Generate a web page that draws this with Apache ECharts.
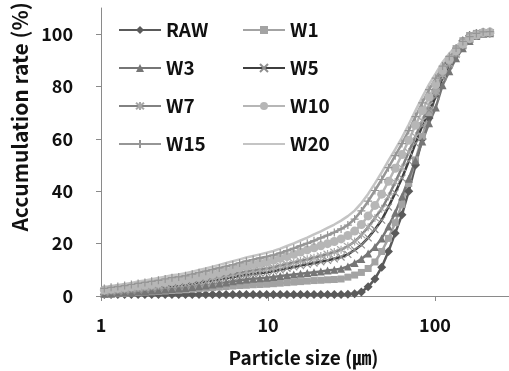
<!DOCTYPE html>
<html>
<head>
<meta charset="utf-8">
<script src="https://cdn.jsdelivr.net/npm/echarts@6/dist/echarts.min.js"></script>
<style>
  html, body { margin: 0; padding: 0; background: #fff; overflow: hidden; }
  #chart { width: 509px; height: 371px; }
</style>
</head>
<body>
<div id="chart"></div>
<script>
// particle size channels (um)
const sizes = [1.047, 1.149, 1.261, 1.385, 1.520, 1.668, 1.832, 2.011, 2.207, 2.423,
  2.660, 2.920, 3.205, 3.519, 3.863, 4.240, 4.655, 5.110, 5.610, 6.158,
  6.760, 7.421, 8.147, 8.943, 9.817, 10.78, 11.83, 12.99, 14.26, 15.65,
  17.18, 18.86, 20.71, 22.73, 24.95, 27.39, 30.07, 33.01, 36.24, 39.78,
  43.67, 47.94, 52.63, 57.77, 63.42, 69.62, 76.43, 83.90, 92.10, 101.1,
  111.0, 121.8, 133.7, 146.8, 161.2, 176.9, 194.2, 213.2];

// accumulation rate (%)
const raw = [0.6, 0.6, 0.6, 0.6, 0.6, 0.6, 0.6, 0.6, 0.6, 0.6,
  0.6, 0.6, 0.6, 0.6, 0.6, 0.6, 0.6, 0.6, 0.6, 0.6,
  0.6, 0.6, 0.6, 0.6, 0.6, 0.6, 0.6, 0.6, 0.6, 0.6,
  0.6, 0.6, 0.6, 0.6, 0.6, 0.6,
  0.7, 0.9, 1.5, 3.5, 6.5, 11, 17, 24, 31, 40, 50, 60, 68, 77, 84, 89, 94, 97.5, 99.5, 100.3, 100.5, 100.4];
const w1 = [0.6, 0.7, 0.9, 1.0, 1.2, 1.3, 1.5, 1.6, 1.8, 1.9, 2.1, 2.2, 2.4, 2.6, 2.8, 3.0, 3.2, 3.4, 3.6, 3.8, 4.0, 4.1, 4.3, 4.4, 4.5,
  4.7, 4.9, 5.1, 5.3, 5.5, 5.7, 5.9, 6.0, 6.2, 6.3, 6.5,
  7.2, 8.0, 9.0, 10.5, 13.0, 17.0, 22.0, 28.0, 35.0, 43.0, 52.0, 61.0, 70.0, 78.0, 85.0, 90.0, 94.5, 97.5, 99.5, 100.3, 100.5, 100.4];
const w3 = [0.9, 1.0, 1.2, 1.3, 1.5, 1.7, 1.9, 2.1, 2.3, 2.5, 2.7, 2.9, 3.1, 3.4, 3.7, 4.0, 4.4, 4.8, 5.2, 5.6, 6.0, 6.3, 6.6, 6.8, 7.0,
  7.3, 7.6, 7.9, 8.2, 8.5, 8.8, 9.1, 9.4, 9.7, 10.0, 10.4,
  11.3, 12.6, 14.1, 16.2, 18.7, 22.0, 26.5, 31.8, 38.0, 44.8, 51.8, 59.0, 66.0, 72.0, 80.5, 85.8, 90.8, 94.6, 97.4, 99.3, 100.2, 100.4];
const w5 = [1.3, 1.5, 1.7, 1.9, 2.1, 2.4, 2.6, 2.9, 3.2, 3.5, 3.8, 4.0, 4.3, 4.7, 5.1, 5.5, 5.9, 6.3, 6.8, 7.2, 7.7, 8.1, 8.5, 8.8, 9.0,
  9.5, 10.0, 10.6, 11.1, 11.6, 12.1, 12.6, 13.1, 13.6, 14.2, 14.9,
  15.9, 17.6, 19.5, 22.2, 25.4, 29.0, 34.0, 39.4, 45.0, 51.5, 58.3, 65.0, 71.0, 76.2, 83.5, 88.3, 92.3, 95.6, 97.9, 99.5, 100.3, 100.5];
const w7 = [1.9, 2.1, 2.4, 2.6, 2.9, 3.1, 3.4, 3.7, 4.0, 4.3, 4.6, 4.9, 5.2, 5.6, 6.0, 6.4, 6.9, 7.4, 7.9, 8.4, 8.9, 9.4, 9.8, 10.2, 10.5,
  11.0, 11.6, 12.2, 12.8, 13.4, 14.0, 14.6, 15.3, 16.0, 16.8, 17.7,
  19.0, 20.8, 23.3, 26.3, 29.8, 33.3, 38.0, 43.5, 49.0, 55.0, 61.0, 67.0, 72.8, 78.0, 84.4, 88.8, 92.7, 95.9, 98.2, 99.6, 100.5, 100.6];
const w10 = [2.3, 2.6, 2.9, 3.2, 3.5, 3.8, 4.1, 4.4, 4.8, 5.2, 5.6, 5.8, 6.2, 6.7, 7.2, 7.7, 8.3, 8.9, 9.5, 10.2, 10.9, 11.5, 12.1, 12.6, 13.0,
  13.7, 14.4, 15.1, 15.9, 16.8, 17.6, 18.4, 19.2, 20.0, 20.8, 21.8,
  23.1, 24.8, 27.3, 30.6, 34.6, 38.9, 43.8, 48.8, 54.0, 59.5, 65.2, 70.8, 76.0, 80.8, 86.2, 90.3, 93.6, 96.2, 98.3, 99.7, 100.6, 100.8];
const w15 = [2.9, 3.3, 3.6, 4.0, 4.4, 4.8, 5.2, 5.6, 6.0, 6.5, 7.0, 7.3, 7.7, 8.3, 8.9, 9.5, 10.1, 10.7, 11.3, 11.9, 12.6, 13.3, 13.9, 14.5, 15.0,
  15.6, 16.4, 17.3, 18.2, 19.2, 20.1, 21.1, 22.2, 23.2, 24.3, 25.6,
  27.1, 29.4, 32.5, 36.2, 40.3, 44.5, 49.0, 53.6, 58.2, 63.2, 68.5, 73.8, 78.8, 83.2, 87.8, 91.5, 94.7, 97.2, 99.1, 100.3, 100.9, 101.0];
const w20 = [3.4, 3.8, 4.2, 4.6, 5.0, 5.5, 5.9, 6.4, 6.9, 7.4, 7.9, 8.2, 8.7, 9.3, 9.9, 10.5, 11.2, 11.9, 12.6, 13.3, 14.0, 14.7, 15.3, 15.9, 16.5,
  17.2, 18.1, 19.1, 20.1, 21.2, 22.3, 23.5, 24.7, 26.0, 27.3, 28.8,
  30.5, 32.6, 35.5, 39.0, 43.0, 47.2, 51.7, 56.0, 60.5, 65.5, 70.8, 76.0, 80.8, 85.0, 89.3, 92.6, 95.4, 97.6, 99.3, 100.4, 100.9, 101.0];

const xTicks = [1, 10, 100];
const yTicks = [0, 20, 40, 60, 80, 100];
const legendCol1 = ['RAW', 'W3', 'W7', 'W15'];
const legendCol2 = ['W1', 'W5', 'W10', 'W20'];

const FONT = 'Noto Sans CJK KR';
const X_PATH = 'path://M0,0L10,10M10,0L0,10';
const STAR_PATH = 'path://M0,0L10,10M10,0L0,10M5,-1L5,11';
const PLUS_PATH = 'path://M5,0L5,10M0,5L10,5';

const pairs = vals => sizes.map((x, i) => [x, vals[i]]);

function mkSeries(name, vals, line, symbol, size, fill, stroke) {
  return {
    name, type: 'line', data: pairs(vals),
    symbol, symbolSize: size, showSymbol: size > 0,
    lineStyle: { color: line, width: 2.5 },
    itemStyle: stroke
      ? { color: 'none', borderColor: stroke, borderWidth: 1.2 }
      : { color: fill, borderWidth: 0 },
    color: line,
    emphasis: { disabled: true },
  };
}

const series = [
  mkSeries('RAW', raw, '#5a5a5a', 'diamond', 9, '#5a5a5a'),
  mkSeries('W1', w1, '#a3a3a3', 'rect', 7, '#a3a3a3'),
  mkSeries('W3', w3, '#767676', 'triangle', 8, '#767676'),
  mkSeries('W5', w5, '#3e3e3e', X_PATH, 7, null, '#8f8f8f'),
  mkSeries('W7', w7, '#828282', STAR_PATH, 8, null, '#a8a8a8'),
  mkSeries('W10', w10, '#b6b6b6', 'circle', 9, '#b6b6b6'),
  mkSeries('W15', w15, '#969696', PLUS_PATH, 8, null, '#969696'),
  mkSeries('W20', w20, '#c4c4c4', 'circle', 0, 'transparent'),
];

const legendBase = {
  orient: 'vertical', top: 20, padding: 0,
  itemWidth: 42, itemHeight: 10, itemGap: 18,
  textStyle: { fontFamily: FONT, fontWeight: 'bold', fontSize: 19, color: '#111', lineHeight: 20 },
};

const chart = echarts.init(document.getElementById('chart'));
chart.setOption({
  animation: false,
  backgroundColor: '#fff',
  grid: { left: 101, right: -93, top: 8, bottom: 75, outerBoundsMode: 'none', containLabel: false },
  legend: [
    Object.assign({ left: 118, data: legendCol1 }, legendBase),
    Object.assign({
      left: 242,
      data: legendCol2.map(n => (n === 'W20'
        ? { name: n, itemStyle: { color: 'transparent', borderColor: 'transparent', borderWidth: 0 } }
        : n)),
    }, legendBase),
  ],
  xAxis: {
    type: 'log', logBase: 10, min: 1, max: 1000,
    name: 'Particle size (㎛)', nameLocation: 'middle', nameGap: 52,
    nameTextStyle: { fontFamily: FONT, fontWeight: 'bold', fontSize: 19, color: '#111', padding: [0, 96, 0, 0] },
    axisLine: { lineStyle: { color: '#8a8a8a', width: 1 } },
    axisTick: { show: true, length: 5, lineStyle: { color: '#8a8a8a' }, customValues: xTicks },
    axisLabel: { fontFamily: FONT, fontWeight: 'bold', fontSize: 18, color: '#111', margin: 20, customValues: xTicks },
    splitLine: { show: false },
    minorTick: { show: false },
  },
  yAxis: {
    type: 'value', min: 0, max: 110, interval: 20,
    name: 'Accumulation rate (%)', nameLocation: 'middle', nameGap: 66,
    nameTextStyle: { fontFamily: FONT, fontWeight: 'bold', fontSize: 21, color: '#111', padding: [0, 0, 0, 70] },
    axisLine: { show: true, lineStyle: { color: '#8a8a8a', width: 1 } },
    axisTick: { show: true, length: 5, lineStyle: { color: '#8a8a8a' }, customValues: yTicks },
    axisLabel: { fontFamily: FONT, fontWeight: 'bold', fontSize: 18, color: '#111', margin: 28, customValues: yTicks },
    splitLine: { show: false },
  },
  series,
});
</script>
</body>
</html>
